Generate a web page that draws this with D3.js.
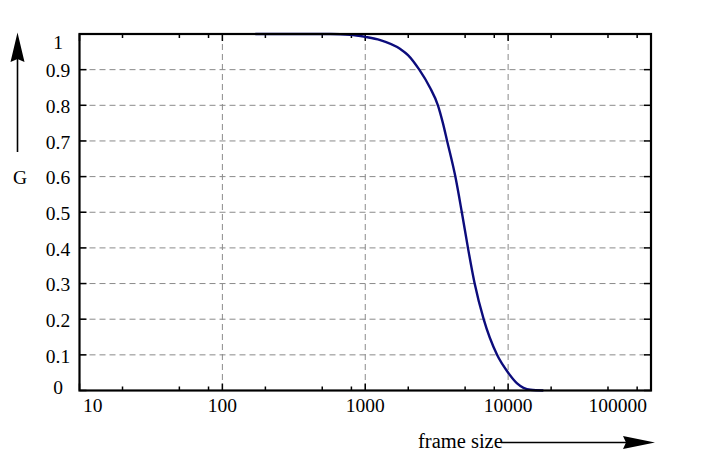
<!DOCTYPE html>
<html>
<head>
<meta charset="utf-8">
<script src="https://cdn.jsdelivr.net/npm/d3@7"></script>
<style>
  html, body { margin: 0; padding: 0; background: #fff; }
  svg text { font-family: "Liberation Serif", "Times New Roman", serif; font-size: 19.5px; fill: #000; }
</style>
</head>
<body>
<svg id="chart" width="702" height="461"></svg>
<script>
// curve
const frameSize = [170, 570, 785, 1000, 1274, 1760, 1991, 2389, 2835, 3226, 3496, 3741,
  4272, 4742, 5234, 5831, 6741, 8366, 10090, 11555, 14320, 17650];
const gValues = [1.0, 1.0, 0.998, 0.992, 0.983, 0.958, 0.941, 0.9, 0.85, 0.8, 0.75, 0.7,
  0.6, 0.5, 0.4, 0.3, 0.2, 0.1, 0.048, 0.02, 0.002, 0.0];

const xTicks = [10, 100, 1000, 10000, 100000];
const xTickLabels = ["10", "100", "1000", "10000", "100000"];
const xMinorSteps = [2, 5, 8];
const yTicks = [0, 0.1, 0.2, 0.3, 0.4, 0.5, 0.6, 0.7, 0.8, 0.9, 1];
const yTickLabels = ["0", "0.1", "0.2", "0.3", "0.4", "0.5", "0.6", "0.7", "0.8", "0.9", "1"];

const plot = { left: 79.5, right: 651, top: 34, bottom: 390.5 };

const svg = d3.select("#chart");

const x = d3.scaleLog().domain([10, 100000]).range([plot.left, plot.right]);
const y = d3.scaleLinear().domain([0, 1]).range([plot.bottom, plot.top]);

// grid
const grid = svg.append("g")
  .attr("stroke", "#8a8a8a")
  .attr("stroke-width", 1)
  .attr("stroke-dasharray", "6,4");

grid.selectAll(".gx")
  .data(xTicks.filter((d) => d > 10 && d < 100000))
  .join("line")
  .attr("x1", (d) => x(d)).attr("x2", (d) => x(d))
  .attr("y1", plot.top).attr("y2", plot.bottom);

grid.selectAll(".gy")
  .data(yTicks.filter((d) => d > 0 && d < 1))
  .join("line")
  .attr("x1", plot.left).attr("x2", plot.right)
  .attr("y1", (d) => y(d)).attr("y2", (d) => y(d));

// ticks pointing inward on all four sides
const minorTicks = [];
xTicks.slice(0, -1).forEach((t) => xMinorSteps.forEach((m) => minorTicks.push(t * m)));

const tickG = svg.append("g").attr("stroke", "#000").attr("stroke-width", 1.5);

[[plot.bottom, -1], [plot.top, 1]].forEach(([y0, dir]) => {
  tickG.append("g").selectAll("line")
    .data(xTicks)
    .join("line")
    .attr("x1", (d) => x(d)).attr("x2", (d) => x(d))
    .attr("y1", y0).attr("y2", y0 + dir * 7);
  tickG.append("g").selectAll("line")
    .data(minorTicks)
    .join("line")
    .attr("x1", (d) => x(d)).attr("x2", (d) => x(d))
    .attr("y1", y0).attr("y2", y0 + dir * 4);
});

[[plot.left, 1], [plot.right, -1]].forEach(([x0, dir]) => {
  tickG.append("g").selectAll("line")
    .data(yTicks)
    .join("line")
    .attr("x1", x0).attr("x2", x0 + dir * 7)
    .attr("y1", (d) => y(d)).attr("y2", (d) => y(d));
});

// curve
const line = d3.line()
  .x((d, i) => x(frameSize[i]))
  .y((d) => y(d))
  .curve(d3.curveMonotoneX);

svg.append("path")
  .datum(gValues)
  .attr("fill", "none")
  .attr("stroke", "#0c0c7c")
  .attr("stroke-width", 2.4)
  .attr("d", line);

// frame
svg.append("rect")
  .attr("x", plot.left).attr("y", plot.top)
  .attr("width", plot.right - plot.left)
  .attr("height", plot.bottom - plot.top)
  .attr("fill", "none")
  .attr("stroke", "#000")
  .attr("stroke-width", 2.2);

// y tick labels, centred in a column, kept inside the frame height
svg.append("g").selectAll("text")
  .data(yTicks)
  .join("text")
  .attr("x", 58)
  .attr("y", (d) => Math.max(plot.top + 8.5, Math.min(plot.bottom - 3.5, y(d) + 1.2)))
  .attr("text-anchor", "middle")
  .attr("dominant-baseline", "central")
  .text((d, i) => yTickLabels[i]);

// x tick labels, kept inside the frame width
svg.append("g").selectAll("text")
  .data(xTicks)
  .join("text")
  .attr("x", (d) => x(d))
  .attr("y", 412)
  .attr("text-anchor", "middle")
  .text((d, i) => xTickLabels[i])
  .each(function () {
    const bb = this.getBBox();
    let dx = 0;
    if (bb.x < plot.left + 3.5) dx = plot.left + 3.5 - bb.x;
    if (bb.x + bb.width > plot.right - 4) dx = plot.right - 4 - (bb.x + bb.width);
    d3.select(this).attr("x", +d3.select(this).attr("x") + dx);
  });

// axis titles with arrows
svg.append("line")
  .attr("x1", 17.5).attr("x2", 17.5)
  .attr("y1", 152).attr("y2", 55)
  .attr("stroke", "#000").attr("stroke-width", 1.6);
svg.append("path")
  .attr("d", "M17.5,32.5 L24.5,62 L17.5,59 L10.5,62 Z")
  .attr("fill", "#000");
svg.append("text")
  .attr("x", 20).attr("y", 183.5)
  .attr("text-anchor", "middle")
  .text("G");

svg.append("text")
  .attr("x", 418).attr("y", 448)
  .style("font-size", "20.5px")
  .text("frame size");
svg.append("line")
  .attr("x1", 501).attr("x2", 630)
  .attr("y1", 442.5).attr("y2", 442.5)
  .attr("stroke", "#000").attr("stroke-width", 1.6);
svg.append("path")
  .attr("d", "M655,442.5 L623,436 L626,442.5 L623,449 Z")
  .attr("fill", "#000");
</script>
</body>
</html>
